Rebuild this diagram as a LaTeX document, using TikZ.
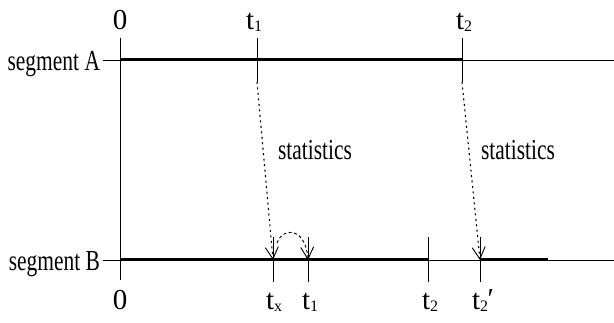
\documentclass[tikz,border=0pt]{standalone}
\usepackage{fontspec}
\setmainfont{Liberation Serif}
\usetikzlibrary{arrows.meta}
\newcommand\wrd[1]{\scalebox{0.74}[1]{#1}}
\newcommand\sbs[1]{\raisebox{-1.5pt}{\fontsize{16}{16}\selectfont #1}}
\begin{document}
\begin{tikzpicture}[x=1pt,y=-1pt,
  font=\fontsize{29}{32}\selectfont,
  lbl/.style={inner sep=0pt, outer sep=0pt},
  thinline/.style={line width=0.9pt},
  thickseg/.style={line width=3pt},
  tickline/.style={line width=0.9pt},
  statarrow/.style={line width=1.1pt, dash pattern=on 2pt off 3.5pt,
    -{Straight Barb[length=12pt,width=13pt,line width=0.9pt]}},
  movearrow/.style={line width=0.9pt, dash pattern=on 3pt off 2.5pt,
    -{Straight Barb[length=12pt,width=13pt,line width=0.9pt]}},
  ]
\useasboundingbox (0,0) rectangle (614,323);
% coordinates
\coordinate (A0) at (103,60);
\coordinate (Aorig) at (120,60);
\coordinate (At1) at (257,60);
\coordinate (At2) at (462,60);
\coordinate (Aend) at (614,60);
\coordinate (B0) at (103,260);
\coordinate (Borig) at (120,260);
\coordinate (Btx) at (273,260);
\coordinate (Bt1) at (308,260);
\coordinate (Bt2) at (428,260);
\coordinate (Bt2p) at (480,260);
\coordinate (Bthk) at (548,260);
\coordinate (Bend) at (614,260);
\coordinate (axtop) at (120,38);
\coordinate (axbot) at (120,280);
\coordinate (At1low) at (257,82);
\coordinate (At2low) at (462,82);
% segment lines
\draw[thinline] (A0) -- (Aend);
\draw[thickseg] (Aorig) -- (At2);
\draw[thinline] (B0) -- (Bend);
\draw[thickseg] (Borig) -- (Bt2);
\draw[thickseg] (Bt2p) -- (Bthk);
% axis
\draw[tickline] (axtop) -- (axbot);
% ticks A
\draw[tickline] (257,38) -- (At1low);
\draw[tickline] (462,38) -- (At2low);
% ticks B
\foreach \x in {273,308,428,480}{
  \draw[tickline] (\x,237) -- (\x,282);
}
% arrows
\draw[statarrow] (At1low) -- (Btx);
\draw[statarrow] (At2low) -- (Bt2p);
\draw[movearrow] (277,243) .. controls (283,226) and (306,228) .. (Bt1);
% labels
\node[lbl, anchor=base east] (segA) at (100,71) {\wrd{segment A}};
\node[lbl, anchor=base east] (segB) at (100,271) {\wrd{segment B}};
\node[lbl, anchor=base] (zA) at (120,30) {0};
\node[lbl, anchor=base west] (t1A) at (246,30) {t\sbs{1}};
\node[lbl, anchor=base west] (t2A) at (456,30) {t\sbs{2}};
\node[lbl, anchor=base] (zB) at (120,310) {0};
\node[lbl, anchor=base west] (txB) at (266,310) {t\sbs{x}};
\node[lbl, anchor=base west] (t1B) at (302,310) {t\sbs{1}};
\node[lbl, anchor=base west] (t2B) at (422,310) {t\sbs{2}};
\node[lbl, anchor=base west] (t2pB) at (472,310) {t\sbs{2}\kern-0.5pt\raisebox{1pt}{′}};
\node[lbl, anchor=base west] (st1) at (278,160) {\wrd{statistics}};
\node[lbl, anchor=base west] (st2) at (481,160) {\wrd{statistics}};
\end{tikzpicture}
\end{document}
